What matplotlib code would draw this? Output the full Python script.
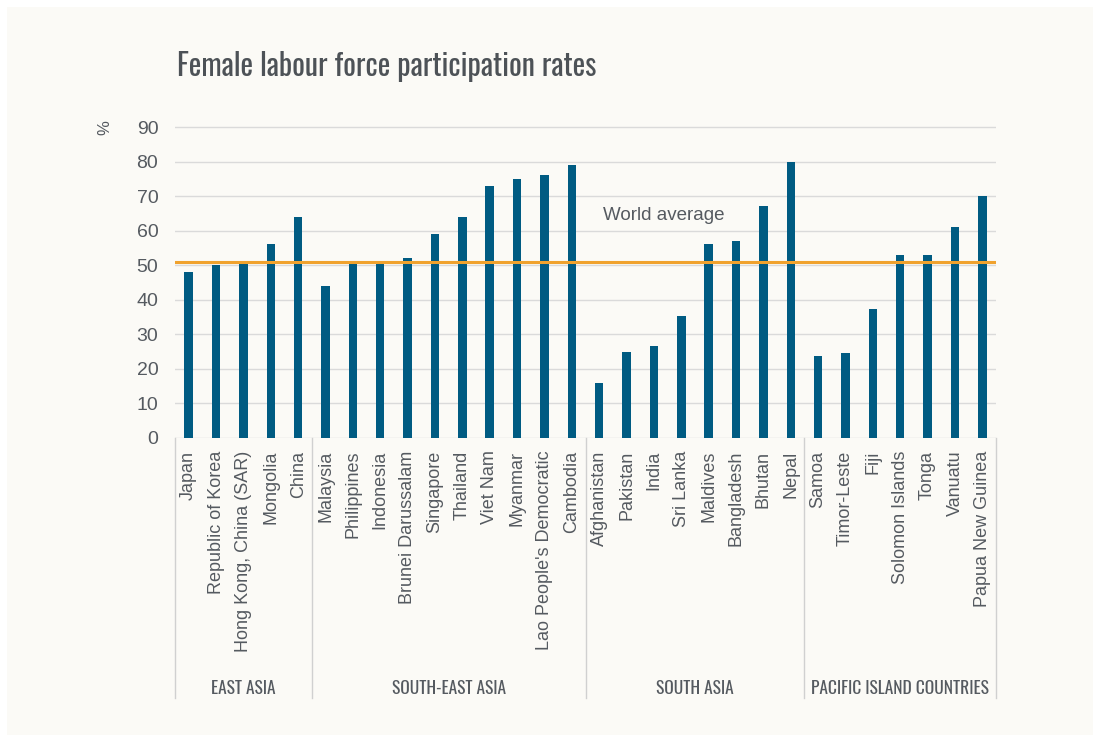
import matplotlib
matplotlib.use("Agg")
import matplotlib.pyplot as plt
import matplotlib.transforms as mtransforms
from matplotlib.patches import Rectangle
from matplotlib.lines import Line2D

countries = ["Japan", "Republic of Korea", "Hong Kong, China (SAR)", "Mongolia", "China",
             "Malaysia", "Philippines", "Indonesia", "Brunei Darussalam", "Singapore",
             "Thailand", "Viet Nam", "Myanmar", "Lao People's Democratic", "Cambodia",
             "Afghanistan", "Pakistan", "India", "Sri Lanka", "Maldives",
             "Bangladesh", "Bhutan", "Nepal",
             "Samoa", "Timor-Leste", "Fiji", "Solomon Islands", "Tonga", "Vanuatu",
             "Papua New Guinea"]
values = [48, 50, 51, 56, 64,
          44, 51, 51, 52, 59, 64, 73, 75, 76, 79,
          16, 25, 26.5, 35.3, 56, 57, 67, 80,
          23.6, 24.5, 37.2, 53, 53, 61, 70]
groups = ["EAST ASIA", "SOUTH-EAST ASIA", "SOUTH ASIA", "PACIFIC ISLAND COUNTRIES"]
group_sizes = [5, 10, 8, 7]
world_average = 51
yticks = [0, 10, 20, 30, 40, 50, 60, 70, 80, 90]

BG = "#fbfaf6"
TXT = "#555a60"
BAR = "#005b82"
ORANGE = "#f0a22e"
GRID = "#dadada"
SANS = ["Liberation Sans", "DejaVu Sans"]
NARROW = ["Oswald", "Roboto Condensed", "Liberation Sans Narrow", "DejaVu Sans"]

W, H = 1100, 742
fig = plt.figure(figsize=(W / 100, H / 100), dpi=100, facecolor="white")
fig.patches.append(Rectangle((7 / W, 7 / H), 1 - 14 / W, 1 - 14 / H,
                             transform=fig.transFigure, facecolor=BG,
                             edgecolor="none", zorder=-10))

left, right = 175, 996
y0_px, y90_px = 438, 127
ppu = (y0_px - y90_px) / 90.0
ytop = 92
top_px = y0_px - ytop * ppu
ax = fig.add_axes([left / W, 1 - y0_px / H, (right - left) / W, (y0_px - top_px) / H])
ax.set_facecolor("none")

n = len(countries)
x = list(range(n))
ax.bar(x, values, width=0.31, color=BAR, zorder=3)
ax.axhline(world_average, color=ORANGE, lw=2.2, zorder=4)
ax.text(15.14, 64.5, "World average", fontsize=13.5, color=TXT, family=SANS,
        ha="left", va="center", zorder=5)

ax.set_xlim(-0.5, n - 0.5)
ax.set_ylim(0, ytop)
ax.set_yticks(yticks)
ax.set_yticklabels([str(v) for v in yticks], fontsize=14, color=TXT, family=SANS)
ax.yaxis.grid(True, color=GRID, lw=1, zorder=0)
ax.set_xticks(x)
ax.set_xticklabels(countries, rotation=90, fontsize=13, color=TXT, family=SANS,
                   ha="center", va="top")
ax.tick_params(axis="both", length=0)
ax.tick_params(axis="x", pad=9)
ax.tick_params(axis="y", pad=12)
for s in ax.spines.values():
    s.set_visible(False)

trans = mtransforms.blended_transform_factory(ax.transData, fig.transFigure)
sep_top = 1 - y0_px / H
sep_bot = 1 - 698 / H
start = -0.5
bounds = [start]
for g, size in zip(groups, group_sizes):
    end = start + size
    ax.text((start + end) / 2, 1 - 689 / H, g, transform=trans, fontsize=12.5,
            color=TXT, family=NARROW, ha="center", va="center")
    bounds.append(end)
    start = end
for b in bounds:
    fig.add_artist(Line2D([b, b], [sep_top, sep_bot], transform=trans,
                          color="#d0d0d0", lw=1))

fig.text(105 / W, 1 - 128 / H, "%", fontsize=12, color=TXT, family=SANS,
         rotation=90, ha="center", va="center")
fig.text(177 / W, 1 - 66 / H, "Female labour force participation rates",
         fontsize=21.5, color="#4d5257", family=NARROW, weight=300,
         ha="left", va="center")

fig.savefig("out.png", dpi=100, facecolor=fig.get_facecolor())
